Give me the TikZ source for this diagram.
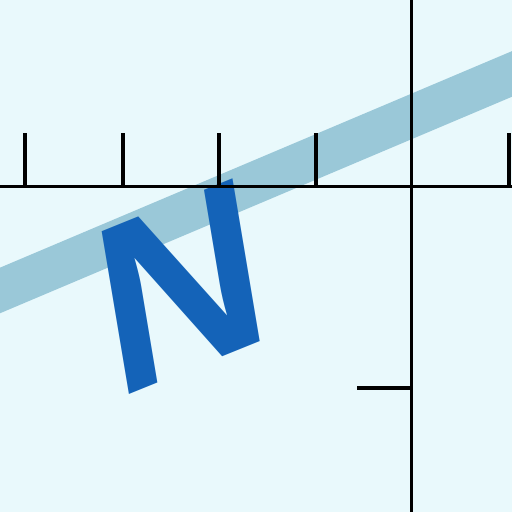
\documentclass[tikz,border=0pt]{standalone}
\usepackage{fontspec}
\setmainfont{Liberation Sans}
\definecolor{bg}{HTML}{E9F9FC}
\definecolor{bandc}{HTML}{9AC8D8}
\definecolor{nblue}{HTML}{1463B8}
\tikzset{
  axisline/.style={draw=black, line width=3.2pt},
  bandline/.style={draw=bandc, line width=42pt},
  bigletter/.style={inner sep=0pt, text=nblue, font=\bfseries\fontsize{240}{240}\selectfont}
}
\begin{document}
\begin{tikzpicture}[x=1pt,y=1pt]
\useasboundingbox (0,0) rectangle (512,512);
\fill[bg] (0,0) rectangle (512,512);
\clip (0,0) rectangle (512,512);
% light band
\draw[bandline] (-10,217.3) -- (522,442.3);
% letter N
\begin{scope}[shift={(181,225)}]
\node[bigletter, cm={0.927,0.375,-0.165,0.986,(0,0)}, transform shape] (n) at (0,0) {N};
\end{scope}
% axes
\draw[axisline] (0,325.5) -- (512,325.5);
\draw[axisline] (411.5,0) -- (411.5,512);
\foreach \tx in {25,123,219,316,509}{
  \draw[axisline] (\tx,325.5) -- (\tx,379);
}
\draw[axisline] (357,124) -- (411.5,124);
\end{tikzpicture}
\end{document}
